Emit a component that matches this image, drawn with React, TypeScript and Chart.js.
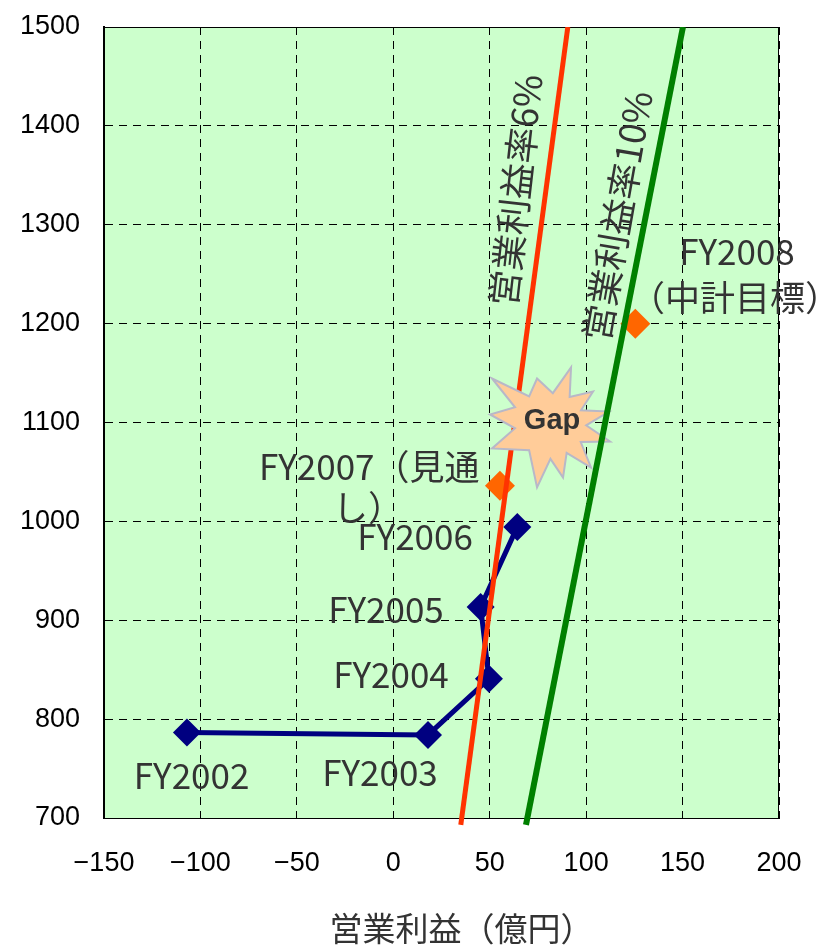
import React, { useEffect, useRef } from 'react';
import { Chart, registerables } from 'chart.js';

Chart.register(...registerables);

// ---- Data ----
const xMin = -150;
const xMax = 200;
const xStep = 50;
const yMin = 700;
const yMax = 1500;
const yStep = 100;

const fiscalYears = ['FY2002', 'FY2003', 'FY2004', 'FY2005', 'FY2006'];
const operatingProfit = [-107, 18, 49.6, 45.3, 64.3];
const netSales = [786.5, 784, 840.8, 913.4, 994.4];

const targetYears = ['FY2007', 'FY2008'];
const targetProfit = [55.3, 125.5];
const targetSales = [1036, 1200];

const margin6X = [35, 90.5];
const margin6Y = [693, 1500];
const margin10X = [68.8, 150.2];
const margin10Y = [693, 1500];

const margin6Label = '営業利益率6%';
const margin10Label = '営業利益率10%';
const xAxisTitle = '営業利益（億円）';
const gapLabel = 'Gap';

// label anchor positions in data units
const pointLabels = [
  { text: 'FY2002', x: -104.6, y: 742.5 },
  { text: 'FY2003', x: -6.9, y: 745.9 },
  { text: 'FY2004', x: -1.2, y: 844.8 },
  { text: 'FY2005', x: -3.8, y: 910.6 },
  { text: 'FY2006', x: 11.3, y: 984.6 },
  { text: 'FY2007（見通', x: -12.5, y: 1055.4 },
  { text: 'し）', x: -13.1, y: 1013.9 },
  { text: 'FY2008', x: 178.2, y: 1273.2 },
  { text: '（中計目標）', x: 177.2, y: 1226.6 },
];
const gapCenter = { x: 81.8, y: 1099 };
const margin6LabelPos = { x: 63.6, y: 1334.9, angle: -83.5 };
const margin10LabelPos = { x: 116.3, y: 1309.1, angle: -80 };

const TICK_FONT = "'Liberation Sans', Arial, sans-serif";
const JP_FONT = "'Noto Sans CJK JP', 'Noto Sans', sans-serif";

const toPts = (xs: number[], ys: number[]) => xs.map((x, i) => ({ x, y: ys[i] }));

// starburst outline (pixel offsets from its centre)
const starOuter = [
  [-59, -45], [-14, -45], [20, -56], [42, -32], [58, -12], [59, 18],
  [40, 44], [12, 54], [-14, 64], [-59, 25], [-61, -9],
];

const annotationPlugin = {
  id: 'annotations',
  beforeDraw(chart: any) {
    const { ctx, chartArea: a } = chart;
    ctx.save();
    ctx.fillStyle = '#CCFFCC';
    ctx.fillRect(a.left, a.top, a.right - a.left, a.bottom - a.top);
    ctx.restore();
  },
  beforeDatasetsDraw(chart: any) {
    const { ctx, chartArea: a } = chart;
    ctx.save();
    ctx.strokeStyle = '#000';
    ctx.lineWidth = 1;
    ctx.beginPath();
    ctx.moveTo(a.left, a.top + 0.5);
    ctx.lineTo(a.right - 0.5, a.top + 0.5);
    ctx.lineTo(a.right - 0.5, a.bottom);
    ctx.stroke();
    ctx.restore();
  },
  afterDatasetDraw(chart: any, args: any) {
    if (args.index !== 1) return;
    const { ctx, scales } = chart;
    const cx = scales.x.getPixelForValue(gapCenter.x);
    const cy = scales.y.getPixelForValue(gapCenter.y);
    ctx.save();
    ctx.beginPath();
    const n = starOuter.length;
    for (let i = 0; i < n; i++) {
      const [ox, oy] = starOuter[i];
      const [nx, ny] = starOuter[(i + 1) % n];
      if (i === 0) ctx.moveTo(cx + ox, cy + oy);
      else ctx.lineTo(cx + ox, cy + oy);
      const mx = ((ox + nx) / 2) * 0.6;
      const my = ((oy + ny) / 2) * 0.6;
      ctx.lineTo(cx + mx, cy + my);
    }
    ctx.closePath();
    ctx.fillStyle = '#FFCC99';
    ctx.fill();
    ctx.strokeStyle = '#B8B8C8';
    ctx.lineWidth = 2;
    ctx.stroke();
    ctx.fillStyle = '#333333';
    ctx.font = `bold 29px ${TICK_FONT}`;
    ctx.textAlign = 'center';
    ctx.textBaseline = 'middle';
    ctx.fillText(gapLabel, cx + 1, cy - 2);
    ctx.restore();
  },
  afterDatasetsDraw(chart: any) {
    const { ctx, scales } = chart;
    ctx.save();
    ctx.fillStyle = '#333333';
    ctx.font = `35px ${JP_FONT}`;
    ctx.textAlign = 'center';
    ctx.textBaseline = 'middle';
    for (const l of pointLabels) {
      ctx.fillText(l.text, scales.x.getPixelForValue(l.x), scales.y.getPixelForValue(l.y));
    }
    ctx.font = `36px ${JP_FONT}`;
    for (const [txt, p] of [[margin6Label, margin6LabelPos], [margin10Label, margin10LabelPos]] as any) {
      ctx.save();
      ctx.translate(scales.x.getPixelForValue(p.x), scales.y.getPixelForValue(p.y));
      ctx.rotate((p.angle * Math.PI) / 180);
      ctx.fillText(txt, 0, 0);
      ctx.restore();
    }
    // axis title
    ctx.font = `33px ${JP_FONT}`;
    const a = chart.chartArea;
    ctx.fillText(xAxisTitle, (a.left + a.right) / 2 + 20, 928);
    ctx.restore();
  },
};

export default function App() {
  const canvasRef = useRef<HTMLCanvasElement | null>(null);

  useEffect(() => {
    if (!canvasRef.current) return;
    const chart = new Chart(canvasRef.current, {
      type: 'scatter',
      data: {
        datasets: [
          {
            label: margin10Label,
            data: toPts(margin10X, margin10Y),
            showLine: true,
            borderColor: '#008000',
            borderWidth: 6,
            pointRadius: 0,
            order: 0,
            clip: { left: 0, top: 0, right: 0, bottom: 10 } as any,
          },
          {
            label: margin6Label,
            data: toPts(margin6X, margin6Y),
            showLine: true,
            borderColor: '#FF3300',
            borderWidth: 5,
            pointRadius: 0,
            order: 0,
            clip: { left: 0, top: 0, right: 0, bottom: 10 } as any,
          },
          {
            label: 'actual',
            data: toPts(operatingProfit, netSales),
            showLine: true,
            borderColor: '#000080',
            backgroundColor: '#000080',
            borderWidth: 5,
            pointStyle: 'rectRot',
            pointRadius: 14,
            pointBorderWidth: 0,
            order: 1,
          },
          {
            label: 'target',
            data: toPts(targetProfit, targetSales),
            showLine: false,
            borderColor: '#FF6600',
            backgroundColor: '#FF6600',
            pointStyle: 'rectRot',
            pointRadius: 15,
            pointBorderWidth: 0,
            order: 1,
          },
        ],
      },
      options: {
        animation: false,
        responsive: true,
        maintainAspectRatio: false,
        layout: { padding: { top: 27, right: 48, left: 0, bottom: 0 } },
        plugins: { legend: { display: false }, tooltip: { enabled: false }, title: { display: false } },
        scales: {
          x: {
            type: 'linear',
            min: xMin,
            max: xMax,
            afterFit: (s: any) => { s.height = 128; },
            ticks: {
              stepSize: xStep,
              color: '#000',
              font: { family: TICK_FONT, size: 27 },
              padding: 0,
              callback: (v: any) => (v < 0 ? '\u2212' + Math.abs(v) : String(v)),
            },
            grid: { color: '#000', lineWidth: 1, drawTicks: true, tickLength: 29, tickColor: 'rgba(0,0,0,0)' },
            border: { display: true, color: '#000', width: 1, dash: [8, 6] },
          },
          y: {
            type: 'linear',
            min: yMin,
            max: yMax,
            afterFit: (s: any) => { s.width = 104; },
            ticks: {
              stepSize: yStep,
              color: '#000',
              font: { family: TICK_FONT, size: 27 },
              padding: 0,
              callback: (v: any) => String(v),
            },
            grid: { color: '#000', lineWidth: 1, drawTicks: true, tickLength: 24, tickColor: 'rgba(0,0,0,0)' },
            border: { display: true, color: '#000', width: 2, dash: [8, 6] },
          },
        },
      },
      plugins: [annotationPlugin],
    });
    return () => chart.destroy();
  }, []);

  return (
    <div style={{ position: 'fixed', left: 0, top: 0, width: 827, height: 946 }}>
      <canvas ref={canvasRef} />
    </div>
  );
}
